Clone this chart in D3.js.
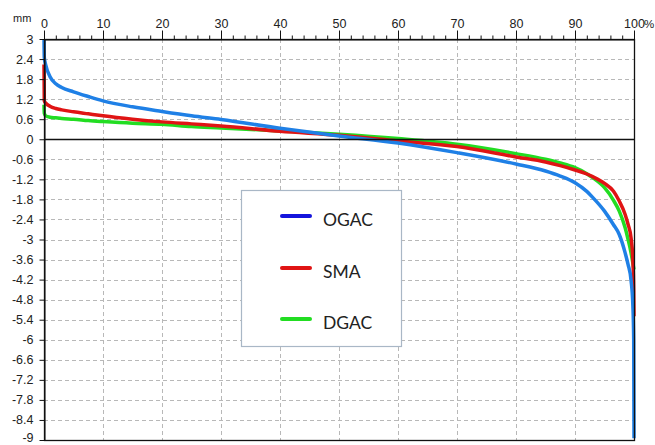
<!DOCTYPE html>
<html>
<head>
<meta charset="utf-8">
<script src="https://cdn.jsdelivr.net/npm/d3@7"></script>
<style>
  body { margin: 0; background: #fff; }
  svg { display: block; }
</style>
</head>
<body>
<script>
// percent of time (x) at which each level is exceeded
var pct = [0, 0.05, 0.3, 1, 2, 3, 5, 7.5, 10, 15, 20, 25, 30, 40, 50, 60, 70, 80, 85, 87.5, 90,
           92, 93, 95, 96.5, 97.5, 98.5, 99, 99.5, 99.8, 99.95, 100];

var ogac = [3.0, 2.45, 2.22, 1.88, 1.66, 1.55, 1.42, 1.28, 1.15, 0.97, 0.83, 0.70, 0.59, 0.33, 0.10, -0.11,
            -0.40, -0.74, -0.95, -1.1, -1.3, -1.56, -1.74, -2.15, -2.55, -2.85, -3.4, -3.75, -4.22, -4.95, -6.0, -8.95];
var sma = [2.24, 1.15, 1.08, 0.99, 0.92, 0.88, 0.82, 0.76, 0.70, 0.60, 0.52, 0.46, 0.40, 0.24, 0.12, -0.05,
           -0.22, -0.53, -0.68, -0.79, -0.92, -1.04, -1.12, -1.32, -1.55, -1.85, -2.25, -2.55, -2.95, -3.6, -4.5, -5.3];
var dgac = [1.03, 0.78, 0.70, 0.66, 0.64, 0.62, 0.60, 0.56, 0.53, 0.48, 0.45, 0.38, 0.34, 0.25, 0.15, 0.02,
            -0.15, -0.43, -0.60, -0.71, -0.85, -1.03, -1.15, -1.45, -1.82, -2.15, -2.65, -3.0, -3.4, -3.7, -3.85, -3.9];

var seriesNames = ['OGAC', 'SMA', 'DGAC'];
var xTicks = [0, 10, 20, 30, 40, 50, 60, 70, 80, 90, 100];
var yTicks = [3, 2.4, 1.8, 1.2, 0.6, 0, -0.6, -1.2, -1.8, -2.4, -3, -3.6, -4.2, -4.8, -5.4, -6,
              -6.6, -7.2, -7.8, -8.4, -9];

var W = 655, H = 445;
var x0 = 44, x1 = 634, yTop = 39, yBot = 440;
var axisFont = 'Liberation Sans, Arial, sans-serif';

var svg = d3.select('body').append('svg').attr('width', W).attr('height', H);

var x = d3.scaleLinear().domain([0, 100]).range([x0, x1]);
var y = d3.scaleLinear().domain([-9, 3]).range([yBot, yTop]);

// grid
var grid = svg.append('g').attr('stroke', '#b8b8b8').attr('stroke-dasharray', '4,3').attr('stroke-width', 1);
grid.selectAll('line.v').data(xTicks.filter(function (d) { return d > 0 && d < 100; }))
  .enter().append('line')
  .attr('x1', function (d) { return Math.round(x(d)) + 0.5; })
  .attr('x2', function (d) { return Math.round(x(d)) + 0.5; })
  .attr('y1', yTop).attr('y2', yBot);
grid.selectAll('line.h').data(yTicks.filter(function (d) { return d !== 0 && d !== 3 && d !== -9; }))
  .enter().append('line')
  .attr('x1', x0).attr('x2', x1)
  .attr('y1', function (d) { return Math.round(y(d)) + 0.5; })
  .attr('y2', function (d) { return Math.round(y(d)) + 0.5; });

// curves
var colors = { OGAC: '#1f80e6', SMA: '#e01414', DGAC: '#22dd22' };
var legendColors = { OGAC: '#1414dc', SMA: '#e01414', DGAC: '#22dd22' };
var values = { OGAC: ogac, SMA: sma, DGAC: dgac };

var line = d3.line()
  .x(function (d) { return x(d[0]); })
  .y(function (d) { return y(d[1]); })
  .curve(d3.curveMonotoneX);

['DGAC', 'SMA', 'OGAC'].forEach(function (name) {
  var pts = pct.map(function (p, i) { return [p, values[name][i]]; });
  svg.append('path')
    .attr('d', line(pts))
    .attr('fill', 'none')
    .attr('stroke', colors[name])
    .attr('stroke-width', 3.5)
    .attr('stroke-linejoin', 'round');
});

// frame and zero line
svg.append('rect')
  .attr('x', x0 + 0.5).attr('y', yTop + 0.5)
  .attr('width', x1 - x0).attr('height', yBot - yTop)
  .attr('fill', 'none').attr('stroke', '#111').attr('stroke-width', 1.3);
svg.append('line')
  .attr('x1', x0).attr('x2', x1)
  .attr('y1', Math.round(y(0)) + 0.5).attr('y2', Math.round(y(0)) + 0.5)
  .attr('stroke', '#111').attr('stroke-width', 1.3);

// top axis
var xAxis = d3.axisTop(x).tickValues(xTicks).tickSize(9).tickSizeOuter(0).tickPadding(3)
  .tickFormat(d3.format('d'));
svg.append('g').attr('transform', 'translate(0,' + (yTop + 0.5) + ')').call(xAxis);
svg.append('g').attr('transform', 'translate(0,' + (yTop + 0.5) + ')')
  .call(d3.axisTop(x).tickValues(d3.range(2, 100, 2).filter(function (d) { return d % 10; }))
    .tickSize(4).tickSizeOuter(0).tickFormat(''))
  .select('.domain').remove();

// left axis
var yAxis = d3.axisLeft(y).tickValues(yTicks).tickSize(5).tickSizeOuter(0).tickPadding(6)
  .tickFormat(function (d) { return String(Math.round(d * 10) / 10); });
var gy = svg.append('g').attr('transform', 'translate(' + (x0 + 0.5) + ',0)').call(yAxis);
// keep the bottom label inside the page
gy.selectAll('.tick text').filter(function (d) { return d === -9; }).attr('dy', '0.1em');

svg.selectAll('.tick line').attr('stroke', '#111');
svg.selectAll('.domain').attr('stroke', '#111');
svg.selectAll('.tick text')
  .attr('font-family', axisFont)
  .attr('font-size', 12.5).attr('fill', '#222');

svg.append('text').attr('x', 13).attr('y', 22).text('mm')
  .attr('font-family', axisFont).attr('font-size', 11).attr('fill', '#222');
svg.append('text').attr('x', 644).attr('y', 28).text('%')
  .attr('font-family', axisFont).attr('font-size', 11.5).attr('fill', '#222');

// legend
var lg = svg.append('g');
lg.append('rect').attr('x', 241.5).attr('y', 190.5).attr('width', 160).attr('height', 156)
  .attr('fill', '#fff').attr('stroke', '#a9b7c6').attr('stroke-width', 1.2);
var legendY = [216, 268, 319];
seriesNames.forEach(function (name, i) {
  lg.append('line').attr('x1', 282).attr('x2', 310).attr('y1', legendY[i]).attr('y2', legendY[i])
    .attr('stroke', legendColors[name]).attr('stroke-width', 4).attr('stroke-linecap', 'round');
  lg.append('text').attr('x', 323).attr('y', legendY[i] + 10).text(name)
    .attr('font-family', 'Lato, Carlito, sans-serif').attr('font-size', 17.5).attr('fill', '#222');
});
</script>
</body>
</html>
